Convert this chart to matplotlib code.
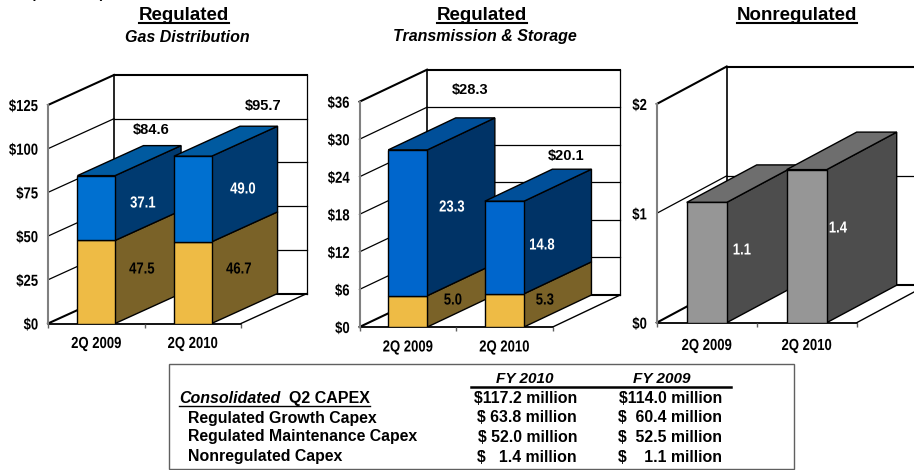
import matplotlib
matplotlib.use("Agg")
import matplotlib.pyplot as plt
from matplotlib.patheffects import AbstractPathEffect
from matplotlib.transforms import Affine2D

W, H = 914, 470

categories = ["2Q 2009", "2Q 2010"]

gas_low = [47.5, 46.7]
gas_high = [37.1, 49.0]
gas_totals = ["$84.6", "$95.7"]
gas_ticks = [0, 25, 50, 75, 100, 125]

trans_low = [5.0, 5.3]
trans_high = [23.3, 14.8]
trans_totals = ["$28.3", "$20.1"]
trans_ticks = [0, 6, 12, 18, 24, 30, 36]

nonreg_values = [1.1, 1.4]
nonreg_ticks = [0, 1, 2]

table_labels = ["Regulated Growth Capex", "Regulated Maintenance Capex", "Nonregulated Capex"]
table_fy2010 = ["$117.2 million", "$ 63.8 million", "$ 52.0 million", "$   1.4 million"]
table_fy2009 = ["$114.0 million", "$  60.4 million", "$  52.5 million", "$    1.1 million"]

plt.rcParams["font.family"] = "Liberation Sans"

fig = plt.figure(figsize=(W / 100, H / 100), dpi=100)


class Narrow(AbstractPathEffect):
    # squeezes the glyphs sideways, the source used a narrow bold face
    def __init__(self, anchor=0.5, squeeze=0.82):
        super().__init__()
        self.anchor = anchor
        self.squeeze = squeeze

    def draw_path(self, renderer, gc, tpath, affine, rgbFace=None):
        ext = tpath.get_extents()
        xa = ext.x0 + self.anchor * ext.width
        t = Affine2D().translate(-xa, 0).scale(self.squeeze, 1).translate(xa, 0)
        renderer.draw_path(gc, tpath, t + affine, rgbFace)


def ftext(x, y, s, **kw):
    kw.setdefault("ha", "center")
    kw.setdefault("va", "center")
    kw.setdefault("fontweight", "bold")
    fig.text(x / W, 1 - y / H, s, **kw)


def num(x, y, s, color="black"):
    ftext(x, y, s, fontsize=11.5, color=color, path_effects=[Narrow()])


def fline(x0, x1, y, lw=1.5):
    fig.add_artist(plt.Line2D([x0 / W, x1 / W], [1 - y / H, 1 - y / H], color="black", lw=lw))


def panel(left, floor_right, y0, y_top, dx, dy, ticks, bar_w, stacks, tops, xpad):
    # left..floor_right is the front of the floor, dx/dy in pixels is the depth
    cat_w = (floor_right - left) / 2
    ymax = ticks[-1]
    scale = (y0 - y_top) / ymax
    ddx = dx / cat_w
    ddy = dy / scale
    ax = fig.add_axes([left / W, 1 - y0 / H, (floor_right + dx - left) / W, (y0 - y_top + dy) / H])
    ax.set_xlim(0, 2 + ddx)
    ax.set_ylim(0, ymax + ddy)
    ax.patch.set_visible(False)
    for s in ax.spines.values():
        s.set_visible(False)

    # walls
    for t in ticks:
        lw = 1.5 if t in (0, ymax) else 0.9
        ax.plot([0, ddx], [t, t + ddy], color="black", lw=lw, zorder=1, clip_on=False)
        ax.plot([ddx, 2 + ddx], [t + ddy, t + ddy], color="black", lw=lw, zorder=1, clip_on=False)
    ax.plot([ddx, ddx], [ddy, ymax + ddy], color="black", lw=1.2, zorder=1)
    ax.plot([2 + ddx, 2 + ddx], [ddy, ymax + ddy], color="black", lw=0.9, zorder=1, clip_on=False)
    ax.plot([2, 2 + ddx], [0, ddy], color="black", lw=1, zorder=1)
    ax.plot([0, 2], [0, 0], color="black", lw=1.3, zorder=1, clip_on=False)
    ax.plot([0, 0], [0, ymax], color="#808080", lw=1.5, zorder=1, clip_on=False)

    # bars, far one first so the near one covers its side
    z = 2
    for i in range(2):
        x0 = i + 0.5 - bar_w / 2
        x1 = i + 0.5 + bar_w / 2
        bottom = 0
        for vals, front, side in stacks:
            v = vals[i]
            ax.bar(i + 0.5, v, bar_w, bottom=bottom, color=front, edgecolor="black", lw=1, zorder=z + 1)
            ax.fill([x1, x1 + ddx, x1 + ddx, x1],
                    [bottom, bottom + ddy, bottom + v + ddy, bottom + v],
                    facecolor=side, edgecolor="black", lw=1, zorder=z)
            bottom += v
        ax.fill([x0, x1, x1 + ddx, x0 + ddx], [bottom, bottom, bottom + ddy, bottom + ddy],
                facecolor=tops, edgecolor="black", lw=1, zorder=z)
        z += 2

    ax.set_yticks(ticks)
    ax.set_yticklabels(["$%d" % t for t in ticks], fontweight="bold", fontsize=11.5,
                       path_effects=[Narrow(anchor=1.0)])
    ax.set_xticks([0, 1, 2])
    ax.set_xticklabels([])
    ax.tick_params(axis="y", length=0, pad=7)
    ax.tick_params(axis="x", length=3, width=1, color="#606060")
    ax.set_xticks([0.5, 1.5], minor=True)
    ax.set_xticklabels(categories, minor=True, fontweight="bold", fontsize=11.5, path_effects=[Narrow()])
    ax.tick_params(axis="x", which="minor", length=0, pad=xpad)
    return ax


yellow, yellow_side = "#EEBB45", "#7A6228"
panel(48, 241, 323.5, 105, 66, 30, gas_ticks, 0.39,
      [(gas_low, yellow, yellow_side), (gas_high, "#0070D0", "#003A70")], "#005AA0", 9)
panel(359.5, 552.7, 327, 101.7, 67.5, 32, trans_ticks, 0.405,
      [(trans_low, yellow, yellow_side), (trans_high, "#0066CC", "#003366")], "#004F99", 9)
panel(656.7, 856.7, 322.7, 104, 70, 37.5, nonreg_ticks, 0.4,
      [(nonreg_values, "#969696", "#4D4D4D")], "#6E6E6E", 11)

# panel headings, the first one is cut off by the top edge in the source too
ftext(68, -6, "($ millions)", fontsize=10)
ftext(184, 15, "Regulated", fontsize=13.5)
fline(139, 229, 23)
ftext(187, 37, "Gas Distribution", fontsize=11.5, fontstyle="italic")
ftext(482, 15, "Regulated", fontsize=13.5)
fline(437, 527, 23)
ftext(485, 37, "Transmission & Storage", fontsize=11.5, fontstyle="italic")
ftext(797, 15, "Nonregulated", fontsize=13.5)
fline(737, 857, 23)

# value labels
ftext(151, 130, gas_totals[0], fontsize=10.5)
ftext(263, 106, gas_totals[1], fontsize=10.5)
num(143, 203, "%.1f" % gas_high[0], "white")
num(243, 189, "%.1f" % gas_high[1], "white")
num(142, 269, "%.1f" % gas_low[0])
num(239, 269, "%.1f" % gas_low[1])
ftext(470, 90, trans_totals[0], fontsize=10.5)
ftext(566, 156, trans_totals[1], fontsize=10.5)
num(452, 207, "%.1f" % trans_high[0], "white")
num(542, 245, "%.1f" % trans_high[1], "white")
num(453, 300, "%.1f" % trans_low[0])
num(545, 300, "%.1f" % trans_low[1])
num(742, 250, "%.1f" % nonreg_values[0], "white")
num(838, 228, "%.1f" % nonreg_values[1], "white")

# table box
fig.add_artist(plt.Rectangle((169 / W, 1 - 469 / H), 625 / W, 105 / H, fill=False,
                             edgecolor="#606060", lw=1))
ftext(525, 379, "FY 2010", fontsize=11, fontstyle="italic")
ftext(662, 379, "FY 2009", fontsize=11, fontstyle="italic")
fline(471, 731, 386.7, lw=1.8)
ftext(179, 398.7, "Consolidated", fontsize=11.5, fontstyle="italic", ha="left")
ftext(289, 398.7, "Q2 CAPEX", fontsize=11.5, ha="left")
fline(179, 370, 406, lw=1)
row_y = [398.7, 418, 437, 457]
for y, s in zip(row_y[1:], table_labels):
    ftext(188, y, s, fontsize=11.4, ha="left")
for y, a, b in zip(row_y, table_fy2010, table_fy2009):
    ftext(577, y, a, fontsize=11.4, ha="right")
    ftext(722, y, b, fontsize=11.4, ha="right")

fig.savefig("out.png", dpi=100)
